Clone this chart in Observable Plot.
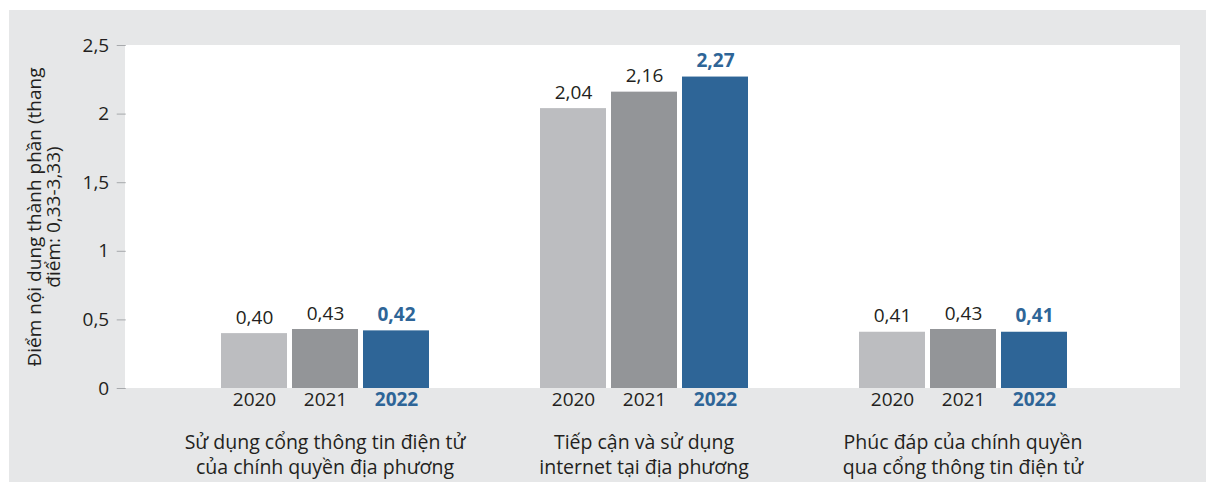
<!DOCTYPE html>
<html>
<head>
<meta charset="utf-8">
<script src="https://cdn.jsdelivr.net/npm/d3@7"></script>
<script src="https://cdn.jsdelivr.net/npm/@observablehq/plot@0.6"></script>
<style>
  html, body { margin: 0; padding: 0; background: #ffffff; }
  #chart { width: 1206px; height: 483px; }
</style>
</head>
<body>
<div id="chart"></div>
<script>
// ---- data ----
const groups = [
  "Sử dụng cổng thông tin điện tử\ncủa chính quyền địa phương",
  "Tiếp cận và sử dụng\ninternet tại địa phương",
  "Phúc đáp của chính quyền\nqua cổng thông tin điện tử"
];
const years = ["2020", "2021", "2022"];
const values2020 = [0.40, 2.04, 0.41];
const values2021 = [0.43, 2.16, 0.43];
const values2022 = [0.42, 2.27, 0.41];
const yTicks = [0, 0.5, 1, 1.5, 2, 2.5];
const yLabel = "Điểm nội dung thành phần (thang\nđiểm: 0,33-3,33)";

const series = {"2020": values2020, "2021": values2021, "2022": values2022};
const data = [];
groups.forEach((g, i) => years.forEach(y => data.push({group: g, year: y, value: series[y][i]})));

// ---- style ----
const W = 1206, H = 483;
const M = {top: 45, right: 26, bottom: 95, left: 125};
const fxPadOuter = 0.151, fxAlign = 0.407;
// offset of the first facet from the plot's left edge (facets have no inner padding)
const innerW = W - M.left - M.right;
const fxStep = innerW / (groups.length + 2 * fxPadOuter);
const facetOffset = fxAlign * (innerW - fxStep * groups.length);

const colors = ["#bcbdc0", "#939598", "#2e6597"];
const ink = "#231f20";
const blue = "#2e6597";
const font = "Open Sans";
const fs = 19;
const comma = v => d3.format(".2f")(v).replace(".", ",");
const tickFmt = v => String(v).replace(".", ",");

const chart = Plot.plot({
  width: W,
  height: H,
  marginTop: M.top,
  marginRight: M.right,
  marginBottom: M.bottom,
  marginLeft: M.left,
  style: {fontFamily: font, fontSize: fs + "px", color: ink, background: "transparent", overflow: "visible"},
  fx: {domain: groups, paddingInner: 0, paddingOuter: fxPadOuter, align: fxAlign, axis: null, label: null},
  x: {domain: years, paddingInner: 0.076, paddingOuter: 0.757, axis: null},
  y: {domain: [0, 2.5], axis: null},
  color: {domain: years, range: colors},
  marks: [
    Plot.barY(data, {fx: "group", x: "year", y: "value", fill: "year"}),
    Plot.text(data.filter(d => d.year !== "2022"), {
      fx: "group", x: "year", y: "value", text: d => comma(d.value),
      dy: -16, fill: ink, fontSize: fs, fontFamily: font
    }),
    Plot.text(data.filter(d => d.year === "2022"), {
      fx: "group", x: "year", y: "value", text: d => comma(d.value),
      dy: -16, fill: blue, fontWeight: "bold", fontSize: fs, fontFamily: font
    }),
    Plot.text(data.filter(d => d.year !== "2022"), {
      fx: "group", x: "year", text: "year", frameAnchor: "bottom",
      dy: 17, fill: ink, fontSize: fs, fontFamily: font
    }),
    Plot.text(data.filter(d => d.year === "2022"), {
      fx: "group", x: "year", text: "year", frameAnchor: "bottom",
      dy: 17, fill: blue, fontWeight: "bold", fontSize: fs, fontFamily: font
    }),
    Plot.text(groups, {
      fx: d => d, text: d => d, frameAnchor: "bottom",
      dy: 65, lineAnchor: "middle", lineHeight: 1.3, fill: ink, fontSize: 19.5, fontFamily: font
    }),
    Plot.axisY({
      ticks: yTicks, tickFormat: tickFmt, tickSize: 9, tickPadding: 8,
      dx: -facetOffset,
      stroke: "#a7a9ac", fill: ink, fontSize: fs,
      label: yLabel, labelAnchor: "center", labelArrow: false,
      labelOffset: 99 + facetOffset
    })
  ]
});

document.getElementById("chart").appendChild(chart);

// background panel and white plot area, behind the marks
const svg = d3.select(chart);
svg.insert("rect", ":first-child")
  .attr("x", M.left).attr("y", M.top)
  .attr("width", innerW).attr("height", H - M.top - M.bottom)
  .attr("fill", "#ffffff");
svg.insert("rect", ":first-child")
  .attr("x", 9).attr("y", 10).attr("width", W - 9).attr("height", H - 11)
  .attr("fill", "#e6e7e8");
</script>
</body>
</html>
